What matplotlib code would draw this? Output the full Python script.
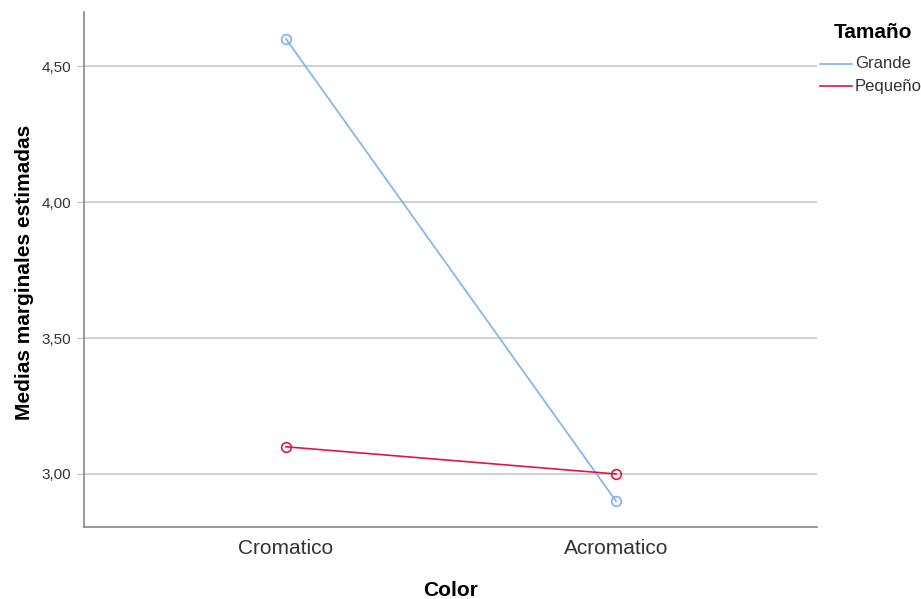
import matplotlib
matplotlib.use("Agg")
import matplotlib.pyplot as plt
from matplotlib.lines import Line2D

categories = ["Cromatico", "Acromatico"]
series_names = ["Grande", "Pequeño"]
grande = [4.60, 2.90]
pequeno = [3.10, 3.00]
yticks = [3.00, 3.50, 4.00, 4.50]
ytick_labels = ["3,00", "3,50", "4,00", "4,50"]

colors = ["#80b1f0", "#d7194a"]

plt.rcParams['font.family'] = ['Liberation Sans', 'DejaVu Sans']

W, H = 921, 599
fig = plt.figure(figsize=(9.21, 5.99), dpi=100)
ax = fig.add_axes([84/W, 1-527/H, (817-84)/W, (527-12)/H])

x = list(range(len(categories)))
for vals, c in zip([grande, pequeno], colors):
    ax.plot(x, vals, color=c, lw=1.2, marker='o', markersize=7,
            markerfacecolor='none', markeredgecolor=c, markeredgewidth=1.2, zorder=3)

ax.set_xlim(-0.612, 1.609)
ax.set_ylim(2.805, 4.699)
ax.set_yticks(yticks)
ax.set_yticklabels(ytick_labels, fontsize=11, color='#333333')
ax.set_xticks(x)
ax.set_xticklabels(categories, fontsize=15, color='#333333')
ax.tick_params(axis='x', length=0, pad=9)
ax.tick_params(axis='y', length=5, color='#bbbbbb', pad=4)
ax.grid(axis='y', color='#c8c8c8', lw=1.2, zorder=1)
for s in ['top', 'right']:
    ax.spines[s].set_visible(False)
for s in ['left', 'bottom']:
    ax.spines[s].set_color('#888888')
    ax.spines[s].set_linewidth(1.2)

ax.set_xlabel("Color", fontsize=15, fontweight='bold')
ax.set_ylabel("Medias marginales estimadas", fontsize=15, fontweight='bold')
ax.xaxis.set_label_coords(451/W, 1-590/H, transform=fig.transFigure)
ax.yaxis.set_label_coords(25/W, 1-272/H, transform=fig.transFigure)
ax.xaxis.label.set_va('center')
ax.yaxis.label.set_va('center')

# legend drawn manually in figure pixel coordinates
fig.text(873/W, 1-33/H, "Tamaño", fontsize=15, fontweight='bold',
         ha='center', va='center')
for i, (name, c) in enumerate(zip(series_names, colors)):
    yy = 1-(64 + 22*i)/H
    fig.add_artist(Line2D([820/W, 852/W], [yy, yy], color=c, lw=1.2))
    fig.text(855/W, yy, name, fontsize=12, color='#333333', ha='left', va='center')

fig.savefig("out.png", dpi=100)
